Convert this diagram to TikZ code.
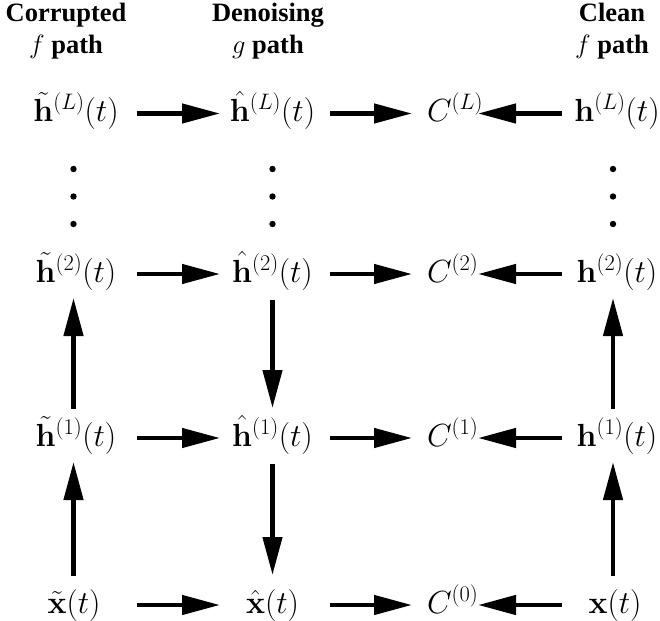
\RequirePackage{fix-cm}
\documentclass[tikz,border=0pt]{standalone}
\usepackage[no-math]{fontspec}
\setmainfont{Liberation Serif}
\usetikzlibrary{arrows.meta}
\begin{document}
\begin{tikzpicture}[x=1pt,y=-1pt,
  mnode/.style={inner sep=0pt, text height=24.5pt, text depth=8.5pt, font=\fontsize{32}{38}\selectfont},
  cnode/.style={mnode, text width=50pt, align=left},
  hdr/.style={inner sep=0pt, align=center, anchor=north, font=\fontsize{26.5}{32}\selectfont\bfseries},
  arr/.style={line width=4.5pt, -{Triangle[length=38pt,width=19pt]}},
  dotc/.style={circle, fill=black, inner sep=0pt, minimum size=6.4pt}
]
\useasboundingbox (0,0) rectangle (660,620);
% headers
\node[hdr] (hc) at (66,3) {Corrupted\\$f$ path};
\node[hdr] (hd) at (268,3) {Denoising\\$g$ path};
\node[hdr] (hn) at (612,3) {Clean\\$f$ path};
% row L
\node[mnode] (tL) at (76,113.5) {$\tilde{\mathbf{h}}^{(L)}(t)$};
\node[mnode] (aL) at (272.5,113.5) {$\hat{\mathbf{h}}^{(L)}(t)$};
\node[cnode] (cL) at (452,113.5) {$C^{(L)}$};
\node[mnode] (hL) at (617,113.5) {$\mathbf{h}^{(L)}(t)$};
% row 2
\node[mnode] (t2) at (76,274) {$\tilde{\mathbf{h}}^{(2)}(t)$};
\node[mnode] (a2) at (272.5,274) {$\hat{\mathbf{h}}^{(2)}(t)$};
\node[cnode] (c2) at (452,274) {$C^{(2)}$};
\node[mnode] (h2) at (617,274) {$\mathbf{h}^{(2)}(t)$};
% row 1
\node[mnode] (t1) at (76,438) {$\tilde{\mathbf{h}}^{(1)}(t)$};
\node[mnode] (a1) at (272.5,438) {$\hat{\mathbf{h}}^{(1)}(t)$};
\node[cnode] (c1) at (452,438) {$C^{(1)}$};
\node[mnode] (h1) at (617,438) {$\mathbf{h}^{(1)}(t)$};
% row 0
\node[mnode] (t0) at (74,605) {$\tilde{\mathbf{x}}(t)$};
\node[mnode] (a0) at (272.5,605) {$\hat{\mathbf{x}}(t)$};
\node[cnode] (c0) at (452,605) {$C^{(0)}$};
\node[mnode] (h0) at (615,605) {$\mathbf{x}(t)$};
% dots
\foreach \nm/\xx in {t/73.5, a/272.5, h/613}{
  \node[dotc] (\nm d1) at (\xx,169) {};
  \node[dotc] (\nm d2) at (\xx,196.5) {};
  \node[dotc] (\nm d3) at (\xx,224) {};
}
% horizontal arrows
\foreach \r in {L,2,1}{
  \draw[arr, shorten <=61pt, shorten >=52.5pt] (t\r.center) -- (a\r.center);
  \draw[arr, shorten <=57.5pt, shorten >=40pt] (a\r.center) -- (c\r.center);
  \draw[arr, shorten <=55pt, shorten >=26pt] (h\r.center) -- (c\r.center);
}
\draw[arr, shorten <=63pt, shorten >=52.5pt] (t0.center) -- (a0.center);
\draw[arr, shorten <=57.5pt, shorten >=40pt] (a0.center) -- (c0.center);
\draw[arr, shorten <=53pt, shorten >=26pt] (h0.center) -- (c0.center);
% vertical arrows
\draw[arr, shorten <=29pt, shorten >=24pt] ([xshift=-0.5pt]t0.center) -- ([xshift=-2.5pt]t1.center);
\draw[arr, shorten <=29pt, shorten >=24pt] ([xshift=-2.5pt]t1.center) -- ([xshift=-2.5pt]t2.center);
\draw[arr, shorten <=29pt, shorten >=24pt] ([xshift=-2pt]h0.center) -- ([xshift=-4pt]h1.center);
\draw[arr, shorten <=29pt, shorten >=24pt] ([xshift=-4pt]h1.center) -- ([xshift=-4pt]h2.center);
\draw[arr, shorten <=26pt, shorten >=30pt] (a2.center) -- (a1.center);
\draw[arr, shorten <=26pt, shorten >=30pt] (a1.center) -- (a0.center);
\end{tikzpicture}
\end{document}
